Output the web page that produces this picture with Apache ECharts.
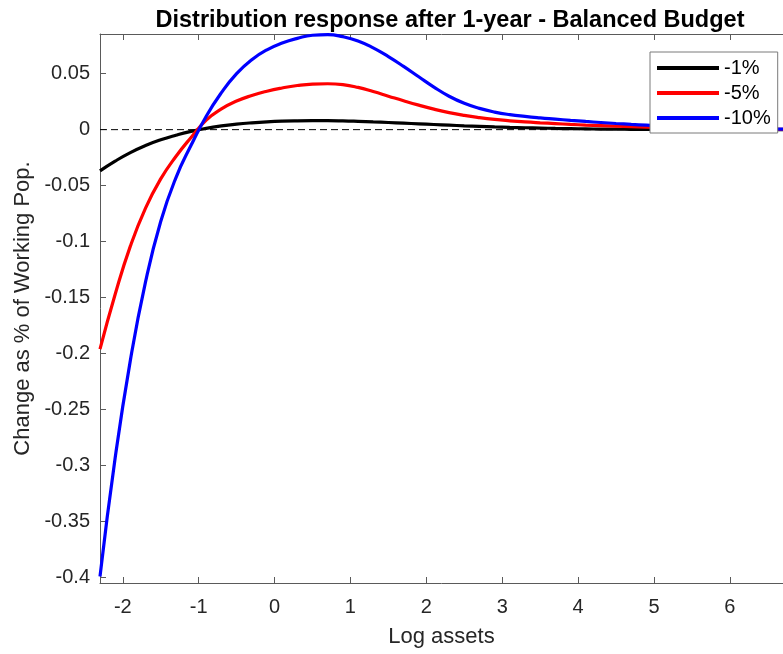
<!DOCTYPE html>
<html>
<head>
<meta charset="utf-8">
<title>Distribution response after 1-year - Balanced Budget</title>
<script src="https://cdn.jsdelivr.net/npm/echarts@6/dist/echarts.min.js"></script>
<style>
  html, body { margin: 0; padding: 0; background: #ffffff; }
  #chart { width: 783px; height: 654px; }
</style>
</head>
<body>
<div id="chart"></div>
<script>
// Log assets grid shared by all three responses
const logAssets = [-2.3, -2.1, -1.9, -1.7, -1.5, -1.3, -1.1, -0.9, -0.7, -0.5, -0.3, -0.1,
  0.1, 0.3, 0.5, 0.7, 0.9, 1.1, 1.3, 1.5, 1.7, 1.9, 2.1, 2.3, 2.5, 2.7, 2.9, 3.1, 3.3, 3.5,
  3.7, 3.9, 4.1, 4.3, 4.5, 4.7, 4.9, 5.1, 5.3, 5.5, 5.7, 5.9, 6.1, 6.3, 6.5, 6.7];

// Change as % of working population, one array per shock size
const shock1 = [-0.0368, -0.0281, -0.0205, -0.0142, -0.0091, -0.0050, -0.0015, 0.0012, 0.0033, 0.0049, 0.0061, 0.0070,
  0.0076, 0.0079, 0.0080, 0.0080, 0.0078, 0.0074, 0.0069, 0.0064, 0.0058, 0.0052, 0.0046, 0.0040, 0.0034, 0.0029, 0.0024, 0.0020, 0.0017, 0.0014,
  0.0011, 0.0009, 0.0007, 0.0005, 0.0004, 0.0003, 0.0002, 0.0002, 0.0001, 0.0001, 0.0001, 0.0, 0.0, 0.0, 0.0, 0.0];

const shock5 = [-0.196, -0.147, -0.104, -0.070, -0.044, -0.024, -0.007, 0.0085, 0.0185, 0.0255, 0.0305, 0.0343,
  0.0372, 0.0394, 0.0407, 0.0410, 0.0402, 0.0377, 0.0340, 0.0299, 0.0258, 0.0219, 0.0183, 0.0152, 0.0127, 0.0107, 0.0091, 0.0079, 0.0069, 0.0061,
  0.0054, 0.0047, 0.0041, 0.0036, 0.0031, 0.0026, 0.0022, 0.0019, 0.0016, 0.0013, 0.0011, 0.0009, 0.0007, 0.0005, 0.0004, 0.0003];

const shock10 = [-0.399, -0.293, -0.206, -0.136, -0.082, -0.043, -0.014, 0.012, 0.033, 0.050, 0.0625, 0.0713,
  0.0773, 0.0815, 0.0843, 0.0848, 0.0830, 0.0792, 0.0730, 0.0652, 0.0565, 0.0472, 0.0380, 0.0298, 0.0235, 0.0190, 0.0157, 0.0134, 0.0118, 0.0105,
  0.0094, 0.0083, 0.0073, 0.0064, 0.0055, 0.0047, 0.0040, 0.0033, 0.0027, 0.0022, 0.0018, 0.0014, 0.0011, 0.0008, 0.0006, 0.0005];

const seriesNames = ['-1%', '-5%', '-10%'];
const xTicks = [-2, -1, 0, 1, 2, 3, 4, 5, 6];
const yTicks = [-0.4, -0.35, -0.3, -0.25, -0.2, -0.15, -0.1, -0.05, 0, 0.05];

const X_MIN = -2.3, X_MAX = 6.7;
const Y_MIN = -0.4048, Y_MAX = 0.0854;

const FONT = '"Liberation Sans", Arial, Helvetica, sans-serif';
const AXIS_COLOR = '#5a5a5a';
const TEXT_COLOR = '#262626';

function pairs(ys) {
  return logAssets.map((x, i) => [x, ys[i]]);
}

function fmtTick(v) {
  return String(Number(v.toFixed(2)));
}

const chart = echarts.init(document.getElementById('chart'), null, { renderer: 'canvas' });

const curveStyle = (color) => ({
  type: 'line',
  xAxisIndex: 0,
  yAxisIndex: 0,
  showSymbol: false,
  smooth: 0.5,
  z: 3,
  lineStyle: { color: color, width: 3.2 },
  itemStyle: { color: color }
});

chart.setOption({
  animation: false,
  backgroundColor: '#ffffff',
  title: {
    text: 'Distribution response after 1-year - Balanced Budget',
    left: 445,
    textAlign: 'center',
    top: 4,
    textStyle: { fontFamily: FONT, fontSize: 23.5, fontWeight: 'bold', color: '#000000' }
  },
  grid: { left: 100, top: 34, width: 690, height: 549, containLabel: false },
  legend: {
    data: seriesNames,
    orient: 'vertical',
    left: 650,
    top: 52,
    padding: [6, 7, 5, 7],
    itemGap: 5,
    itemWidth: 62,
    itemHeight: 4,
    icon: 'rect',
    backgroundColor: '#ffffff',
    borderColor: '#7a7a7a',
    borderWidth: 1,
    borderRadius: 0,
    z: 10,
    textStyle: { fontFamily: FONT, fontSize: 20, color: '#000000', lineHeight: 20 }
  },
  xAxis: [
    {
      type: 'value',
      min: X_MIN,
      max: X_MAX,
      position: 'bottom',
      name: 'Log assets',
      nameLocation: 'middle',
      nameGap: 43,
      nameTextStyle: { fontFamily: FONT, fontSize: 22, color: TEXT_COLOR },
      axisLine: { show: true, onZero: false, lineStyle: { color: AXIS_COLOR, width: 1 } },
      axisTick: { show: true, inside: true, length: 6, customValues: xTicks, lineStyle: { color: AXIS_COLOR } },
      axisLabel: { show: true, customValues: xTicks, margin: 14, fontFamily: FONT, fontSize: 20, color: TEXT_COLOR },
      splitLine: { show: false }
    },
    {
      type: 'value',
      min: X_MIN,
      max: X_MAX,
      position: 'top',
      axisLine: { show: true, onZero: false, lineStyle: { color: AXIS_COLOR, width: 1 } },
      axisTick: { show: true, inside: true, length: 6, customValues: xTicks, lineStyle: { color: AXIS_COLOR } },
      axisLabel: { show: false },
      splitLine: { show: false }
    }
  ],
  yAxis: {
    type: 'value',
    min: Y_MIN,
    max: Y_MAX,
    name: 'Change as % of Working Pop.',
    nameLocation: 'middle',
    nameGap: 66,
    nameTextStyle: { fontFamily: FONT, fontSize: 22, color: TEXT_COLOR },
    axisLine: { show: true, onZero: false, lineStyle: { color: AXIS_COLOR, width: 1 } },
    axisTick: { show: true, inside: true, length: 6, customValues: yTicks, lineStyle: { color: AXIS_COLOR } },
    axisLabel: {
      show: true,
      customValues: yTicks,
      margin: 10,
      fontFamily: FONT,
      fontSize: 20,
      color: TEXT_COLOR,
      formatter: (v) => fmtTick(v)
    },
    splitLine: { show: false }
  },
  series: [
    {
      name: 'zero',
      type: 'line',
      xAxisIndex: 0,
      yAxisIndex: 0,
      showSymbol: false,
      silent: true,
      z: 1,
      data: [[X_MIN, 0], [X_MAX, 0]],
      lineStyle: { color: '#000000', width: 1, type: [7, 4] }
    },
    Object.assign(curveStyle('#000000'), { name: seriesNames[0], data: pairs(shock1) }),
    Object.assign(curveStyle('#ff0000'), { name: seriesNames[1], data: pairs(shock5) }),
    Object.assign(curveStyle('#0000ff'), { name: seriesNames[2], data: pairs(shock10) })
  ]
});
</script>
</body>
</html>
